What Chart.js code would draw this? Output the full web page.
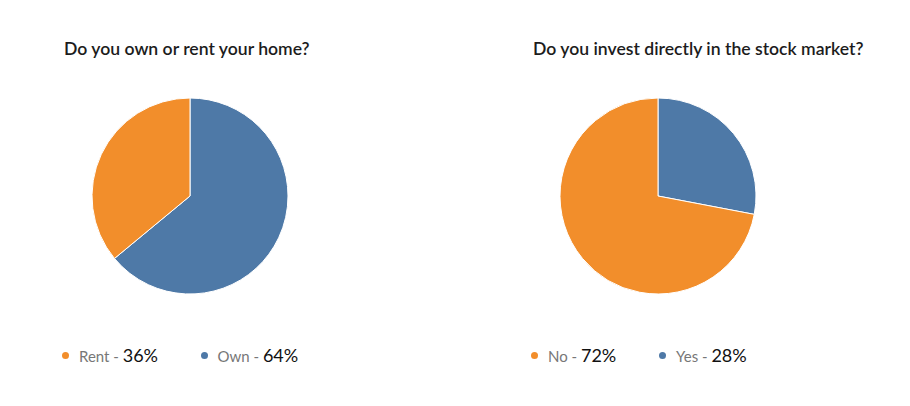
<!DOCTYPE html>
<html>
<head>
<meta charset="utf-8">
<script src="https://cdn.jsdelivr.net/npm/chart.js@4/dist/chart.umd.min.js"></script>
<style>
  html, body { margin: 0; padding: 0; background: #fff; }
  body { width: 910px; height: 406px; position: relative; overflow: hidden; font-family: Lato, "Open Sans", sans-serif; }
  .title { position: absolute; font-size: 17.6px; font-weight: 600; color: #1c1c1c; white-space: nowrap; line-height: 20px; }
  .pie { position: absolute; width: 200px; height: 200px; }
  .legend { position: absolute; white-space: nowrap; line-height: 22px; }
  .item { position: absolute; top: 0; }
  .dot { position: absolute; width: 7px; height: 7px; border-radius: 50%; top: 8px; left: 0; }
  .lab { position: absolute; left: 17px; top: 0; font-size: 15px; color: #777; }
  .pct { font-size: 18px; color: #111; }
</style>
</head>
<body>
<div class="title" id="t1" style="left:64px; top:39px;"></div>
<div class="title" id="t2" style="left:533px; top:39px;"></div>
<div class="pie" style="left:90px; top:96px;"><canvas id="c1" width="200" height="200"></canvas></div>
<div class="pie" style="left:558px; top:96px;"><canvas id="c2" width="200" height="200"></canvas></div>
<div class="legend" id="l1" style="left:62px; top:344px;"></div>
<div class="legend" id="l2" style="left:531px; top:344px;"></div>
<script>
// Survey answers (percent of respondents)
const homeTitle = "Do you own or rent your home?";
const homeLabels = ["Rent", "Own"];
const homeValues = [36, 64];

const stockTitle = "Do you invest directly in the stock market?";
const stockLabels = ["No", "Yes"];
const stockValues = [72, 28];

const answerColors = ["#F28E2B", "#4E79A7"];

// horizontal offsets of the legend entries
const legendOffsets = [[0, 138.5], [0, 128]];

function drawPie(canvasId, labels, values) {
  // slices run counter-clockwise from 12 o'clock in legend order,
  // so hand Chart.js the reversed order (it draws clockwise)
  const n = labels.length;
  const rev = (a) => a.slice().reverse();
  new Chart(document.getElementById(canvasId), {
    type: 'pie',
    data: {
      labels: rev(labels),
      datasets: [{
        data: rev(values),
        backgroundColor: rev(answerColors.slice(0, n)),
        borderColor: '#ffffff',
        borderWidth: 1
      }]
    },
    options: {
      responsive: false,
      animation: false,
      radius: 98,
      layout: { padding: 0 },
      plugins: { legend: { display: false }, tooltip: { enabled: false } }
    }
  });
}

function buildLegend(id, labels, values, offsets) {
  const el = document.getElementById(id);
  labels.forEach((lab, i) => {
    const item = document.createElement('div');
    item.className = 'item';
    item.style.left = offsets[i] + 'px';
    item.innerHTML = '<span class="dot" style="background:' + answerColors[i] + '"></span>' +
      '<span class="lab">' + lab + ' - <span class="pct">' + values[i] + '%</span></span>';
    el.appendChild(item);
  });
}

document.getElementById('t1').textContent = homeTitle;
document.getElementById('t2').textContent = stockTitle;
drawPie('c1', homeLabels, homeValues);
drawPie('c2', stockLabels, stockValues);
buildLegend('l1', homeLabels, homeValues, legendOffsets[0]);
buildLegend('l2', stockLabels, stockValues, legendOffsets[1]);
</script>
</body>
</html>
